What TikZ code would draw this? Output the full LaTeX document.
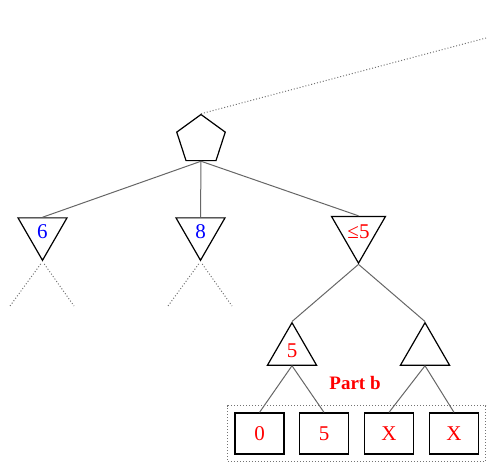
\documentclass[tikz,border=0pt]{standalone}
\usepackage{fontspec}
\setmainfont{Liberation Serif}
\usetikzlibrary{shapes.geometric,fit}
\tikzset{
    maxnode/.style={draw, line width=1.2pt, regular polygon, regular polygon sides=5, minimum size=51pt, inner sep=0pt},
    mintri/.style={draw, line width=1.2pt, regular polygon, regular polygon sides=3, shape border rotate=180, minimum size=56.6pt, inner sep=0pt},
    maxtri/.style={draw, line width=1.2pt, regular polygon, regular polygon sides=3, minimum size=56.6pt, inner sep=0pt},
    leaf/.style={draw, line width=1.2pt, minimum width=49pt, minimum height=41pt, inner sep=0pt},
    branch/.style={black!60, line width=1pt},
    cut/.style={black!55, dotted, line width=1pt},
}
\begin{document}
\begin{tikzpicture}[x=1pt, y=-1pt, font=\fontsize{21}{21}\selectfont]
    \useasboundingbox (0,0) rectangle (488,463);
    % Root and its three min children
    \node [maxnode] (root) at (201,140) {};
    \node [mintri, text=blue] (six) at (42.5,232) {6};
    \node [mintri, text=blue] (eight) at (200.5,232) {8};
    \node [mintri, text=red] (lefive) at (358.5,232) {≤5};
    \coordinate (parent) at (486,38);
    \draw [cut] (root.corner 1) -- (parent);
    \draw [branch] (root.south) -- (six.north);
    \draw [branch] (root.south) -- (eight.north);
    \draw [branch] (root.south) -- (lefive.north);
    % Unexplored subtrees
    \coordinate (sixl) at (10,306);
    \coordinate (sixr) at (74,306);
    \coordinate (eightl) at (168,306);
    \coordinate (eightr) at (232,306);
    \draw [cut, shorten <=3pt] (six.south) -- (sixl);
    \draw [cut, shorten <=3pt] (six.south) -- (sixr);
    \draw [cut, shorten <=3pt] (eight.south) -- (eightl);
    \draw [cut, shorten <=3pt] (eight.south) -- (eightr);
    % Max nodes below the right child
    \node [maxtri, text=red] (five) at (292,351) {5};
    \node [maxtri] (other) at (425,351) {};
    \draw [branch] (lefive.south) -- (five.north);
    \draw [branch] (lefive.south) -- (other.north);
    % Leaves
    \node [leaf, text=red] (l0) at (259.5,433.5) {0};
    \node [leaf, text=red] (l5) at (324,433.5) {5};
    \node [leaf, text=red] (lx1) at (389,433.5) {X};
    \node [leaf, text=red] (lx2) at (454,433.5) {X};
    \draw [branch] (five.south) -- (l0.north);
    \draw [branch] (five.south) -- (l5.north);
    \draw [branch] (other.south) -- (lx1.north);
    \draw [branch] (other.south) -- (lx2.north);
    \node [cut, draw, fit=(l0) (lx2), inner xsep=6.5pt, inner ysep=6.5pt] (partbox) {};
    \node [text=red, font=\fontsize{19}{19}\selectfont\bfseries] (partb) at (355,383) {Part b};
\end{tikzpicture}
\end{document}
